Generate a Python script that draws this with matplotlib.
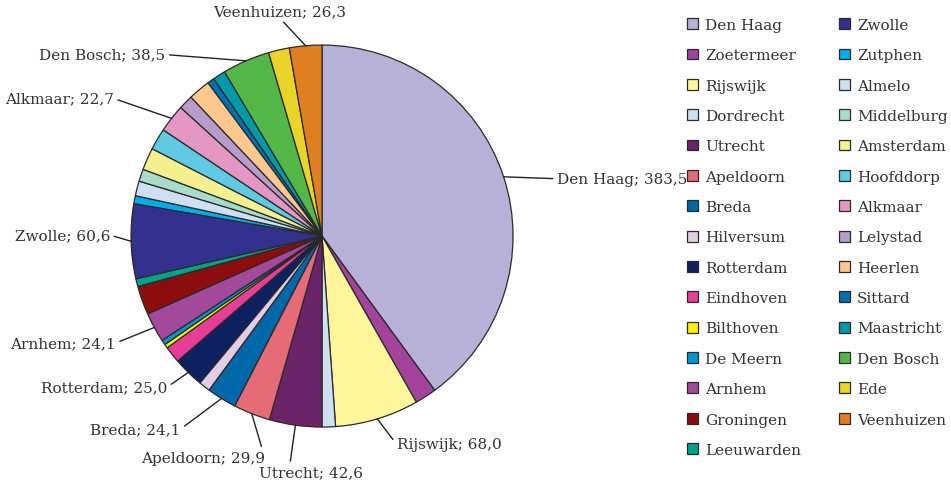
import matplotlib
matplotlib.use('Agg')
import matplotlib.pyplot as plt
import numpy as np

cities = ['Den Haag', 'Zoetermeer', 'Rijswijk', 'Dordrecht', 'Utrecht',
          'Apeldoorn', 'Breda', 'Hilversum', 'Rotterdam', 'Eindhoven',
          'Bilthoven', 'De Meern', 'Arnhem', 'Groningen', 'Leeuwarden',
          'Zwolle', 'Zutphen', 'Almelo', 'Middelburg', 'Amsterdam',
          'Hoofddorp', 'Alkmaar', 'Lelystad', 'Heerlen', 'Sittard',
          'Maastricht', 'Den Bosch', 'Ede', 'Veenhuizen']
values = [383.5, 17.5, 68.0, 10.9, 42.6,
          29.9, 24.1, 9.3, 25.0, 13.5,
          3.2, 4.0, 24.1, 23.3, 6.4,
          60.6, 6.4, 12.0, 10.0, 18.0,
          17.5, 22.7, 11.7, 17.8, 5.6,
          10.3, 38.5, 17.0, 26.3]
colors = ['#b7b1d8', '#a3439b', '#fff59a', '#cfe0f3', '#6c2468',
          '#e56b77', '#0067a8', '#e3cde5', '#0d2160', '#e63d96',
          '#fff200', '#0096d6', '#a3499b', '#8b0d0d', '#00a387',
          '#33308e', '#00aeef', '#cfe0f3', '#a6dccc', '#f4ef8f',
          '#60c9e3', '#e597c3', '#b79ccb', '#fdc88e', '#0070b0',
          '#009aa8', '#54b848', '#e9d52a', '#e07f21']

# which slices get a label, and where the label text sits (axes units, radius=1)
labelled = {
    'Den Haag':   ((1.23, 0.30), 'left', 'center', (0, 0.5)),
    'Rijswijk':   ((0.39, -1.09), 'left', 'center', (0, 0.5)),
    'Utrecht':    ((-0.06, -1.20), 'center', 'top', (0.3, 1)),
    'Apeldoorn':  ((-0.30, -1.16), 'right', 'center', (1, 0.5)),
    'Breda':      ((-0.74, -1.01), 'right', 'center', (1, 0.5)),
    'Rotterdam':  ((-0.81, -0.79), 'right', 'center', (1, 0.5)),
    'Arnhem':     ((-1.08, -0.56), 'right', 'center', (1, 0.5)),
    'Zwolle':     ((-1.11, 0.005), 'right', 'center', (1, 0.5)),
    'Alkmaar':    ((-1.09, 0.72), 'right', 'center', (1, 0.5)),
    'Den Bosch':  ((-0.82, 0.95), 'right', 'center', (1, 0.5)),
    'Veenhuizen': ((-0.22, 1.14), 'center', 'bottom', (0.5, 0)),
}

plt.rcParams['font.family'] = ['DejaVu Serif']
txt_color = '#333333'
fs = 11

fig = plt.figure(figsize=(9.51, 4.89), dpi=100)
ax = fig.add_axes([0, 0, 1, 1])

wedges, _ = ax.pie(values, colors=colors, startangle=90, counterclock=False,
                   radius=1.0,
                   wedgeprops=dict(edgecolor='#2a2a2a', linewidth=0.9))

for w, name, v in zip(wedges, cities, values):
    if name not in labelled:
        continue
    pos, ha, va, rel = labelled[name]
    mid = np.deg2rad((w.theta1 + w.theta2) / 2)
    ax.annotate(f'{name}; {v:.1f}'.replace('.', ','),
                xy=(np.cos(mid), np.sin(mid)), xytext=pos,
                ha=ha, va=va, fontsize=fs, color=txt_color,
                arrowprops=dict(arrowstyle='-', color='#222222', lw=1.0,
                                shrinkA=1, shrinkB=0, relpos=rel))

ax.set_xlim(-1.686, 3.293)
ax.set_ylim(-1.319, 1.241)
ax.set_aspect('equal')
ax.axis('off')

leg = ax.legend(wedges, cities, ncol=2, loc='upper left',
                bbox_to_anchor=(687 / 951, 1 - 19 / 489),
                bbox_transform=fig.transFigure,
                frameon=False, fontsize=fs, handlelength=0.72,
                handleheight=0.72, handletextpad=0.45, labelspacing=1.07,
                columnspacing=2.5, borderaxespad=0, borderpad=0)
for t in leg.get_texts():
    t.set_color(txt_color)

fig.savefig('out.png', dpi=100)
